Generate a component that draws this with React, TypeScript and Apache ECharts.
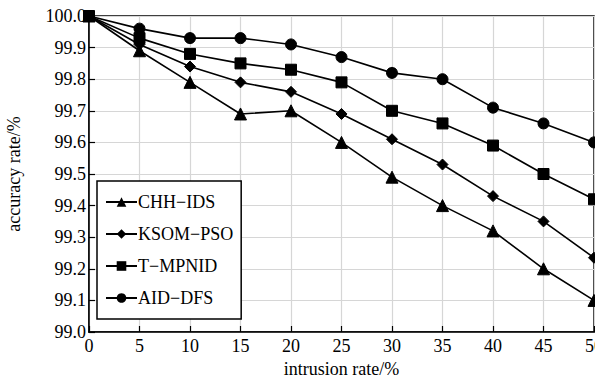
import React, { useEffect, useRef } from "react";
import * as echarts from "echarts";

const xValues = [0, 5, 10, 15, 20, 25, 30, 35, 40, 45, 50];
const seriesNames = ["CHH−IDS", "KSOM−PSO", "T−MPNID", "AID−DFS"];
const chhIds = [100, 99.89, 99.79, 99.69, 99.7, 99.6, 99.49, 99.4, 99.32, 99.2, 99.1];
const ksomPso = [100, 99.91, 99.84, 99.79, 99.76, 99.69, 99.61, 99.53, 99.43, 99.35, 99.235];
const tMpnid = [100, 99.93, 99.88, 99.85, 99.83, 99.79, 99.7, 99.66, 99.59, 99.5, 99.42];
const aidDfs = [100, 99.96, 99.93, 99.93, 99.91, 99.87, 99.82, 99.8, 99.71, 99.66, 99.6];
const symbols = ["triangle", "diamond", "rect", "circle"];
const symbolSizes = [12, 11, 11, 11];

const FONT = "'Liberation Serif', 'Times New Roman', serif";
const FS = 18;

export default function App() {
  const ref = useRef<HTMLDivElement>(null);
  useEffect(() => {
    if (!ref.current) return;
    const chart = echarts.init(ref.current, undefined, { renderer: "svg" });
    const allData = [chhIds, ksomPso, tMpnid, aidDfs];
    chart.setOption({
      animation: false,
      backgroundColor: "#ffffff",
      textStyle: { fontFamily: FONT },
      grid: {
        left: 89,
        right: 1,
        top: 16,
        bottom: 46,
        show: true,
        borderColor: "#000",
        borderWidth: 1.5,
        containLabel: false,
        outerBoundsMode: "none",
      },
      legend: {
        data: seriesNames,
        orient: "vertical",
        left: 97,
        top: 181,
        padding: [12, 8, 12, 8],
        itemGap: 14,
        itemWidth: 31,
        itemHeight: 12,
        borderColor: "#000",
        borderWidth: 1.5,
        backgroundColor: "#fff",
        textStyle: { fontFamily: FONT, fontSize: FS, color: "#000", padding: [0, 0, 0, -4] },
      },
      xAxis: {
        type: "value",
        min: 0,
        max: 50,
        interval: 5,
        name: "intrusion rate/%",
        nameLocation: "middle",
        nameGap: 27,
        nameTextStyle: { fontFamily: FONT, fontSize: FS, color: "#000" },
        axisLine: { lineStyle: { color: "#000", width: 1.5 } },
        axisTick: { inside: true, length: 6, lineStyle: { color: "#000", width: 1.2 } },
        axisLabel: { fontFamily: FONT, fontSize: FS, color: "#000", margin: 5 },
        splitLine: { show: true, lineStyle: { color: "#d6d6d6", width: 1.2 } },
      },
      yAxis: {
        type: "value",
        min: 99,
        max: 100,
        interval: 0.1,
        name: "accuracy rate/%",
        nameLocation: "middle",
        nameGap: 66,
        nameTextStyle: { fontFamily: FONT, fontSize: FS, color: "#000" },
        axisLine: { show: true, lineStyle: { color: "#000", width: 1.5 } },
        axisTick: { show: true, inside: true, length: 6, lineStyle: { color: "#000", width: 1.2 } },
        axisLabel: {
          fontFamily: FONT,
          fontSize: FS,
          color: "#000",
          margin: 3,
          formatter: (v: number) => v.toFixed(1),
        },
        splitLine: { show: true, lineStyle: { color: "#d6d6d6", width: 1.2 } },
      },
      series: seriesNames.map((name, i) => ({
        name,
        type: "line",
        data: xValues.map((x, j) => [x, allData[i][j]]),
        symbol: symbols[i],
        symbolSize: symbolSizes[i],
        showAllSymbol: true,
        clip: false,
        lineStyle: { color: "#000", width: 1.6 },
        itemStyle: { color: "#000", borderColor: "#000" },
        z: 10 - i,
      })),
    });
    return () => chart.dispose();
  }, []);
  return (
    <div
      ref={ref}
      style={{ position: "fixed", left: 0, top: 0, width: 595, height: 378, background: "#fff" }}
    />
  );
}
